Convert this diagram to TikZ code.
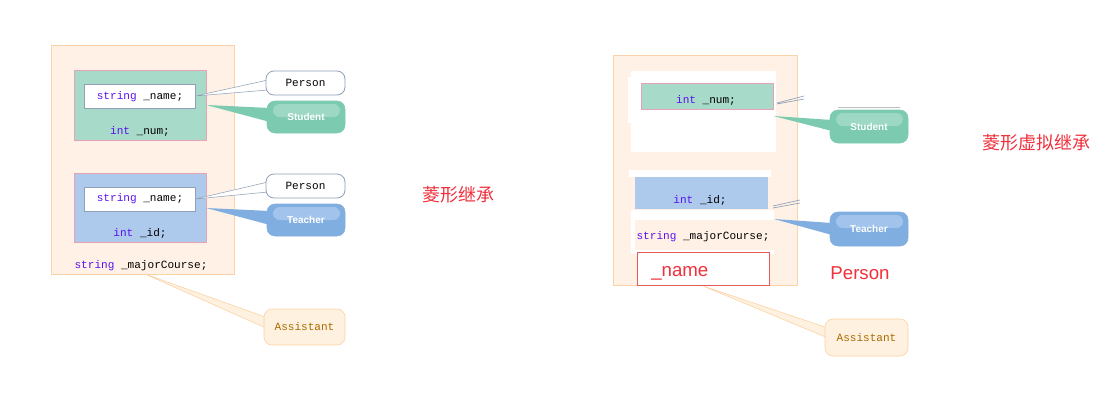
\documentclass[tikz,border=0pt]{standalone}
\usepackage{fontspec}
\setmainfont{Liberation Sans}
\setmonofont{Liberation Mono}
\newfontfamily\cjk{Noto Sans CJK SC}
\usetikzlibrary{fit}
\definecolor{peach}{HTML}{FFF1E5}
\definecolor{peachline}{HTML}{FAD3A8}
\definecolor{grnbox}{HTML}{A8DACA}
\definecolor{bluebox}{HTML}{ADC9EC}
\definecolor{pinkline}{HTML}{E6A3B5}
\definecolor{grayline}{HTML}{8FA0B8}
\definecolor{calgreen}{HTML}{7CCBB0}
\definecolor{calgreenhi}{HTML}{9CD8C4}
\definecolor{calblue}{HTML}{80AEE0}
\definecolor{calbluehi}{HTML}{A2C4EC}
\definecolor{asfill}{HTML}{FFF1E0}
\definecolor{asline}{HTML}{FBD0A0}
\definecolor{astext}{HTML}{A86A00}
\definecolor{kw}{HTML}{5A10F0}
\definecolor{redtxt}{HTML}{F0303C}
\definecolor{redbox}{HTML}{E85A5A}
\tikzset{
  box/.style={inner sep=0pt, draw=#1},
  code/.style={font=\ttfamily\fontsize{8.3}{9}\selectfont, inner sep=0pt, text=black},
  personcal/.style={draw=grayline, fill=white, rounded corners=6pt, line width=0.6pt, inner sep=0pt},
  colcal/.style={draw=#1, fill=#1, rounded corners=6pt, inner sep=0pt},
  caltext/.style={text=white, font=\bfseries\fontsize{7.5}{9}\selectfont, inner sep=0pt},
  monotext/.style={font=\ttfamily\fontsize{8.3}{9}\selectfont, inner sep=0pt},
  wedge/.style={line width=0.4pt},
  title/.style={text=redtxt, font=\cjk\fontsize{13.5}{15}\selectfont, inner sep=0pt},
  bigred/.style={text=redtxt, font=\fontsize{14}{16}\selectfont, inner sep=0pt},
}
\newcommand{\kwd}[1]{\textcolor{kw}{#1}}
\begin{document}
\begin{tikzpicture}[x=0.75pt,y=-0.75pt]
\useasboundingbox (0,0) rectangle (1108,400);
\fill[white] (0,0) rectangle (1108,400);

% ================= LEFT =================
\node[box=peachline, fill=peach, fit={(51,45)(234,274)}] (outerL) {};
\node[box=pinkline, fill=grnbox, fit={(74,70)(206,140)}] (grnL) {};
\node[box=grayline, fill=white, fit={(84,84)(195,108)}] (nameS) {};
\node[code] (nameStxt) at (140,97) {\kwd{string} \_name;};
\node[code] (numL) at (140,131) {\kwd{int} \_num;};
\node[box=pinkline, fill=bluebox, fit={(74,173)(206,242)}] (bluL) {};
\node[box=grayline, fill=white, fit={(84,187)(195,211)}] (nameT) {};
\node[code] (nameTtxt) at (140,199) {\kwd{string} \_name;};
\node[code] (idL) at (140,233) {\kwd{int} \_id;};
\node[code] (majL) at (141,266) {\kwd{string} \_majorCourse;};

% wedges left
\coordinate (pw1a) at (268,80); \coordinate (pw1b) at (268,90);
\filldraw[wedge, draw=grayline, fill=white] (nameS.east |- 0,96) -- (pw1a) -- (pw1b) -- cycle;
\coordinate (sw1a) at (270,108); \coordinate (sw1b) at (270,122);
\fill[calgreen] (grnL.north east |- 0,105) -- (sw1a) -- (sw1b) -- cycle;
\coordinate (pw2a) at (268,182); \coordinate (pw2b) at (268,192);
\filldraw[wedge, draw=grayline, fill=white] (nameT.east |- 0,199) -- (pw2a) -- (pw2b) -- cycle;
\coordinate (tw1a) at (270,211); \coordinate (tw1b) at (270,225);
\fill[calblue] (bluL.east |- 0,208) -- (tw1a) -- (tw1b) -- cycle;
\coordinate (aw1o) at (145,274);
\coordinate (aw1a) at (268,318); \coordinate (aw1b) at (268,329);
\filldraw[wedge, draw=asline, fill=asfill] (aw1o) -- (aw1a) -- (aw1b) -- cycle;

% callouts left
\node[personcal, fit={(266,71)(345,95)}] (person1) {};
\node[monotext] at (person1.center) {Person};
\node[colcal=calgreen, fit={(267,101)(345,133)}] (student1) {};
\fill[calgreenhi, rounded corners=5pt] (273,104) rectangle (340,117);
\node[caltext] at (student1.center) {Student};
\node[personcal, fit={(266,174)(345,198)}] (person2) {};
\node[monotext] at (person2.center) {Person};
\node[colcal=calblue, fit={(267,204)(345,236)}] (teacher1) {};
\fill[calbluehi, rounded corners=5pt] (273,207) rectangle (340,220);
\node[caltext] at (teacher1.center) {Teacher};
\node[draw=asline, fill=asfill, rounded corners=6pt, inner sep=0pt, fit={(264,309)(345,345)}] (assist1) {};
\node[monotext, text=astext] at (assist1.center) {Assistant};

\node[title] (t1) at (458,195) {菱形继承};

% ================= RIGHT =================
\node[box=peachline, fill=peach, fit={(613,55)(797,285)}] (outerR) {};
\fill[white] (631,71) rectangle (776,152);
\fill[white] (628,77) rectangle (641,123);
\node[box=pinkline, fill=grnbox, fit={(641,83)(773,109)}] (grnR) {};
\node[code] (numR) at (706,100) {\kwd{int} \_num;};
\fill[white] (629,170) rectangle (771,177);
\node[box=bluebox, fill=bluebox, fit={(635,177)(767,208)}] (bluR) {};
\node[code] (idR) at (700,200) {\kwd{int} \_id;};
\fill[white] (631,210) rectangle (774,254);
\fill[peach] (635,220) rectangle (774,250);
\node[code] (majR) at (703,237) {\kwd{string} \_majorCourse;};
\node[draw=redbox, fill=white, inner sep=0pt, fit={(637,252)(769,285)}] (nameR) {};
\node[bigred, anchor=west] (nameRtxt) at (651,273) {\_name};
\node[bigred] (personR) at (860,273) {Person};

% remnant lines
\coordinate (r1a) at (777,103); \coordinate (r1b) at (804,96);
\coordinate (r1c) at (777,104); \coordinate (r1d) at (804,99);
\draw[grayline, line width=0.5pt] (r1a) -- (r1b) (r1c) -- (r1d);
\coordinate (r2a) at (773,206); \coordinate (r2b) at (800,200);
\coordinate (r2c) at (773,208); \coordinate (r2d) at (800,203);
\draw[grayline, line width=0.5pt] (r2a) -- (r2b) (r2c) -- (r2d);
\coordinate (g1a) at (838,107); \coordinate (g1b) at (900,107);
\draw[gray!50, line width=0.6pt] (g1a) -- (g1b);

% wedges right
\coordinate (sw2a) at (832,120); \coordinate (sw2b) at (832,131);
\fill[calgreen] (grnR.east |- 0,116) -- (sw2a) -- (sw2b) -- cycle;
\coordinate (tw2o) at (774,219);
\coordinate (tw2a) at (832,223); \coordinate (tw2b) at (832,235);
\fill[calblue] (tw2o) -- (tw2a) -- (tw2b) -- cycle;
\coordinate (aw2o) at (703,286);
\coordinate (aw2a) at (828,328); \coordinate (aw2b) at (828,338);
\filldraw[wedge, draw=asline, fill=asfill] (aw2o) -- (aw2a) -- (aw2b) -- cycle;

% callouts right
\node[colcal=calgreen, fit={(830,110)(908,143)}] (student2) {};
\fill[calgreenhi, rounded corners=5pt] (836,113) rectangle (903,126);
\node[caltext] at (student2.center) {Student};
\node[colcal=calblue, fit={(830,212)(908,246)}] (teacher2) {};
\fill[calbluehi, rounded corners=5pt] (836,215) rectangle (903,228);
\node[caltext] at (teacher2.center) {Teacher};
\node[draw=asline, fill=asfill, rounded corners=6pt, inner sep=0pt, fit={(825,319)(908,356)}] (assist2) {};
\node[monotext, text=astext] at (assist2.center) {Assistant};

\node[title] (t2) at (1036,143) {菱形虚拟继承};
\end{tikzpicture}
\end{document}
